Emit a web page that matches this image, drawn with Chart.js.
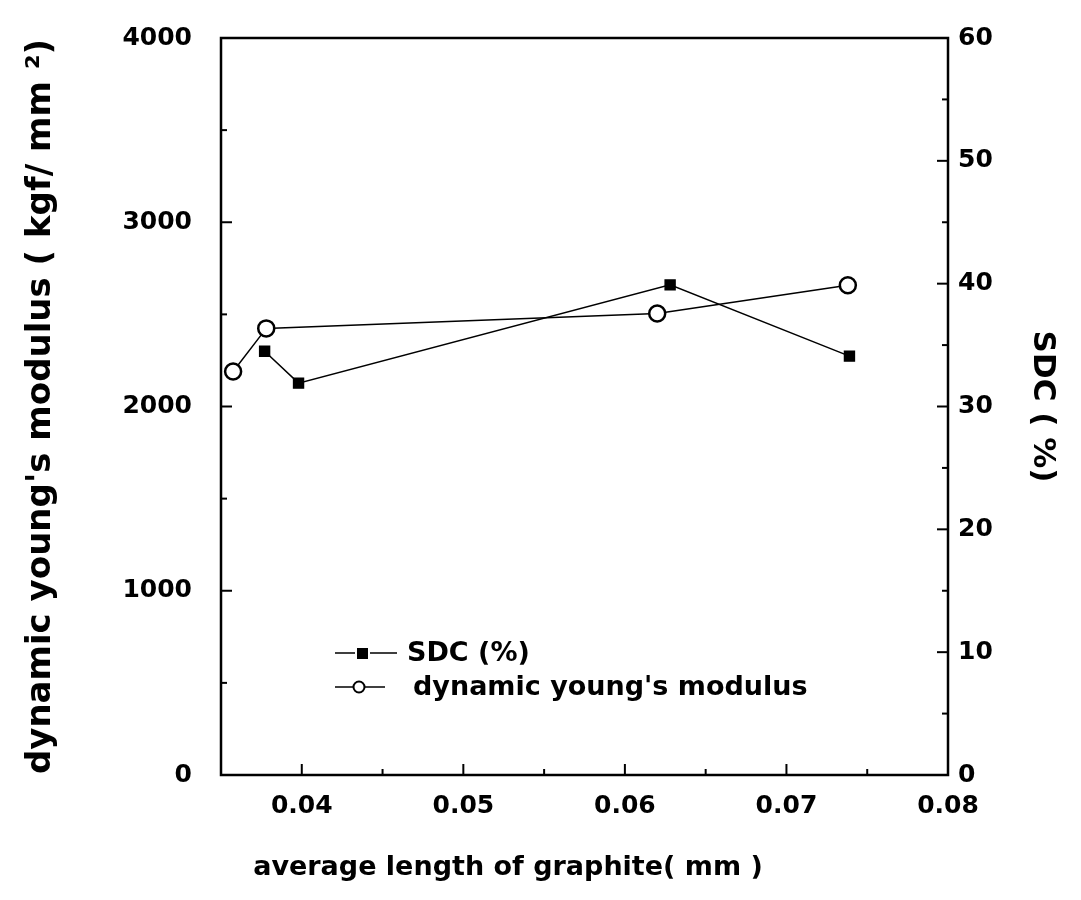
<!DOCTYPE html>
<html>
<head>
<meta charset="utf-8">
<script src="https://cdn.jsdelivr.net/npm/chart.js@4"></script>
<style>
  body { margin: 0; background: #fff; }
  canvas { display: block; }
</style>
</head>
<body>
<canvas id="chart" width="1081" height="900"></canvas>
<script>
// values
const sdcX = [0.0377, 0.0398, 0.0628, 0.0739];
const sdcY = [34.5, 31.9, 39.9, 34.1];
const modulusX = [0.03575, 0.0378, 0.062, 0.0738];
const modulusY = [2190, 2424, 2505, 2658];

const xMajor = [0.04, 0.05, 0.06, 0.07, 0.08];
const xMinor = [0.035, 0.045, 0.055, 0.065, 0.075];
const leftMajor = [0, 1000, 2000, 3000, 4000];
const leftMinor = [500, 1500, 2500, 3500];
const rightMajor = [0, 10, 20, 30, 40, 50, 60];
const rightMinor = [5, 15, 25, 35, 45, 55];

const fontName = "'DejaVu Sans'";
const tickFont = { family: fontName, size: 25, weight: "bold" };

function toPoints(xs, ys) {
	return xs.map((x, i) => ({ x: x, y: ys[i] }));
}

// frame, inward ticks, x title and the legend
const decorations = {
	id: "decorations",
	afterDraw(chart) {
		const { ctx, chartArea: a, scales } = chart;
		ctx.save();
		ctx.strokeStyle = "#000";
		ctx.fillStyle = "#000";
		ctx.lineWidth = 2.5;
		ctx.strokeRect(a.left, a.top, a.right - a.left, a.bottom - a.top);

		ctx.lineWidth = 2;
		function xTick(v, len) {
			const p = scales.x.getPixelForValue(v);
			ctx.beginPath();
			ctx.moveTo(p, a.bottom);
			ctx.lineTo(p, a.bottom - len);
			ctx.stroke();
		}
		function leftTick(v, len) {
			const p = scales.y.getPixelForValue(v);
			ctx.beginPath();
			ctx.moveTo(a.left, p);
			ctx.lineTo(a.left + len, p);
			ctx.stroke();
		}
		function rightTick(v, len) {
			const p = scales.y1.getPixelForValue(v);
			ctx.beginPath();
			ctx.moveTo(a.right, p);
			ctx.lineTo(a.right - len, p);
			ctx.stroke();
		}
		xMajor.forEach((v) => xTick(v, 11));
		xMinor.forEach((v) => xTick(v, 6));
		leftMajor.forEach((v) => leftTick(v, 11));
		leftMinor.forEach((v) => leftTick(v, 6));
		rightMajor.forEach((v) => rightTick(v, 11));
		rightMinor.forEach((v) => rightTick(v, 6));

		// x axis title
		ctx.font = "bold 27px " + fontName;
		ctx.textAlign = "center";
		ctx.textBaseline = "alphabetic";
		ctx.fillText("average length of graphite( mm )", 508, 875);

		// legend
		ctx.lineWidth = 1.5;
		ctx.beginPath();
		ctx.moveTo(335, 653);
		ctx.lineTo(355, 653);
		ctx.moveTo(370, 653);
		ctx.lineTo(397, 653);
		ctx.stroke();
		ctx.fillRect(357, 648, 11, 11);

		ctx.beginPath();
		ctx.moveTo(335, 687);
		ctx.lineTo(385, 687);
		ctx.stroke();
		ctx.beginPath();
		ctx.arc(359, 687, 5.5, 0, Math.PI * 2);
		ctx.fillStyle = "#fff";
		ctx.fill();
		ctx.lineWidth = 2;
		ctx.stroke();

		ctx.fillStyle = "#000";
		ctx.textAlign = "left";
		ctx.fillText("SDC (%)", 407, 661);
		ctx.fillText("dynamic young's modulus", 413, 695);
		ctx.restore();
	},
};

function fixWidth(w) {
	return (scale) => {
		scale.width = w;
		scale.paddingTop = 0;
		scale.paddingBottom = 0;
	};
}

new Chart(document.getElementById("chart"), {
	type: "scatter",
	data: {
		datasets: [
			{
				label: "SDC (%)",
				data: toPoints(sdcX, sdcY),
				yAxisID: "y1",
				showLine: true,
				borderColor: "#000",
				borderWidth: 1.5,
				pointStyle: "rect",
				pointRadius: 7,
				pointBackgroundColor: "#000",
				pointBorderColor: "#000",
			},
			{
				label: "dynamic young's modulus",
				data: toPoints(modulusX, modulusY),
				yAxisID: "y",
				showLine: true,
				borderColor: "#000",
				borderWidth: 1.5,
				pointStyle: "circle",
				pointRadius: 8,
				pointBorderWidth: 2.5,
				pointBackgroundColor: "#fff",
				pointBorderColor: "#000",
			},
		],
	},
	options: {
		responsive: false,
		animation: false,
		layout: { padding: { top: 38, left: 0, right: 0, bottom: 0 } },
		plugins: {
			legend: { display: false },
			tooltip: { enabled: false },
		},
		scales: {
			x: {
				type: "linear",
				min: 0.035,
				max: 0.08,
				afterBuildTicks: (scale) => {
					scale.ticks = xMajor.map((v) => ({ value: v }));
				},
				afterFit: (scale) => {
					scale.height = 125;
					scale.paddingLeft = 0;
					scale.paddingRight = 0;
				},
				grid: { display: false, drawTicks: false },
				border: { display: false },
				ticks: {
					color: "#000",
					font: tickFont,
					padding: 16,
					maxRotation: 0,
					callback: (v) => v.toFixed(2),
				},
			},
			y: {
				position: "left",
				min: 0,
				max: 4000,
				afterBuildTicks: (scale) => {
					scale.ticks = leftMajor.map((v) => ({ value: v }));
				},
				afterFit: fixWidth(221),
				grid: { display: false, drawTicks: false },
				border: { display: false },
				ticks: { color: "#000", font: tickFont, padding: 29, callback: (v) => String(v) },
				title: {
					display: true,
					text: "dynamic young's modulus ( kgf/ mm ²)",
					color: "#000",
					font: { family: fontName, size: 34, weight: "bold" },
					padding: { top: 21, bottom: 0 },
				},
			},
			y1: {
				position: "right",
				min: 0,
				max: 60,
				afterBuildTicks: (scale) => {
					scale.ticks = rightMajor.map((v) => ({ value: v }));
				},
				afterFit: fixWidth(133),
				grid: { display: false, drawTicks: false },
				border: { display: false },
				ticks: { color: "#000", font: tickFont, padding: 10, callback: (v) => String(v) },
				title: {
					display: true,
					text: "SDC ( %)",
					color: "#000",
					font: { family: fontName, size: 31, weight: "bold" },
					padding: { top: 20, bottom: 0 },
				},
			},
		},
	},
	plugins: [decorations],
});
</script>
</body>
</html>
